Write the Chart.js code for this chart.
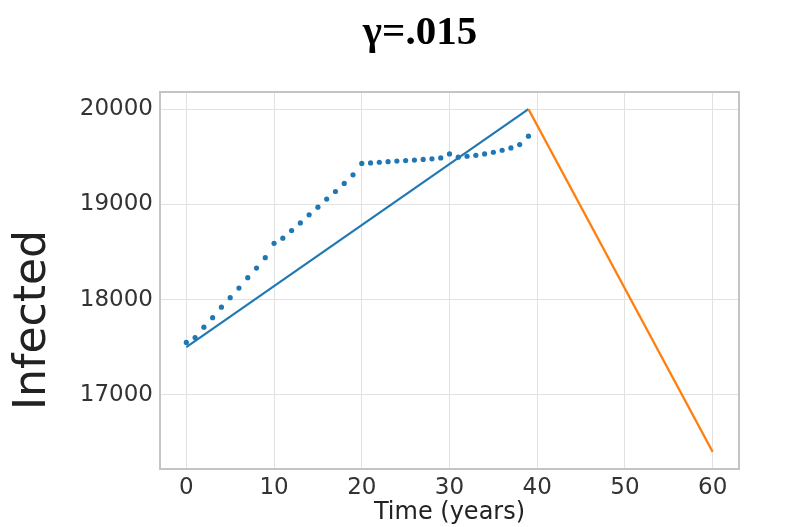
<!DOCTYPE html>
<html>
<head>
<meta charset="utf-8">
<title>gamma .015</title>
<script src="https://cdn.jsdelivr.net/npm/chart.js@4.4.1/dist/chart.umd.min.js"></script>
<style>
  html, body { margin: 0; padding: 0; background: #fff; }
  #wrap { width: 809px; height: 527px; }
</style>
</head>
<body>
<div id="wrap"><canvas id="chart" width="809" height="527"></canvas></div>
<script>
// ---- data ----
const chartTitle = 'γ=.015';
const xTicks = [0, 10, 20, 30, 40, 50, 60];
const yTicks = [17000, 18000, 19000, 20000];

// fitted model (solid lines)
const fitYears = [0, 39];
const fitValues = [17500, 20000];
const forecastYears = [39, 60];
const forecastValues = [20000, 16400];

// observed yearly values (dots)
const obsYears = [0, 1, 2, 3, 4, 5, 6, 7, 8, 9,
  10, 11, 12, 13, 14, 15, 16, 17, 18, 19,
  20, 21, 22, 23, 24, 25, 26, 27, 28, 29,
  30, 31, 32, 33, 34, 35, 36, 37, 38, 39];
const obsValues = [17550, 17600, 17710, 17810, 17920, 18020, 18120, 18230, 18330, 18440,
  18590, 18645, 18725, 18805, 18890, 18970, 19055, 19135, 19220, 19310,
  19430, 19435, 19442, 19448, 19455, 19460, 19465, 19472, 19478, 19488,
  19530, 19495, 19505, 19515, 19530, 19547, 19568, 19593, 19628, 19716];

const blue = '#1f77b4';
const orange = '#ff7f0e';

const toPoints = (xs, ys) => xs.map((x, i) => ({ x: x, y: ys[i] }));

// box round the plot area, like the matplotlib spines
const framePlugin = {
  id: 'frame',
  beforeDatasetsDraw(chart) {
    const { ctx, chartArea: a } = chart;
    ctx.save();
    ctx.strokeStyle = '#c4c4c4';
    ctx.lineWidth = 2;
    ctx.strokeRect(a.left, a.top, a.right - a.left, a.bottom - a.top);
    ctx.restore();
  }
};

// figure title and y label sit off-centre in the original, so place them by hand
const textPlugin = {
  id: 'texts',
  afterDraw(chart) {
    const ctx = chart.ctx;
    ctx.save();
    ctx.fillStyle = '#000';
    ctx.font = 'bold 41px "Liberation Serif", "Times New Roman", serif';
    ctx.textAlign = 'center';
    ctx.textBaseline = 'alphabetic';
    ctx.fillText(chartTitle, 420, 44);

    ctx.fillStyle = '#222';
    ctx.font = '44px "DejaVu Sans", sans-serif';
    ctx.translate(34, 320);
    ctx.rotate(-Math.PI / 2);
    ctx.textBaseline = 'middle';
    ctx.fillText('Infected', 0, 0);
    ctx.restore();
  }
};

new Chart(document.getElementById('chart'), {
  type: 'scatter',
  data: {
    datasets: [
      {
        label: 'observed',
        data: toPoints(obsYears, obsValues),
        showLine: false,
        pointRadius: 2.6,
        pointBackgroundColor: blue,
        pointBorderWidth: 0,
        order: 0
      },
      {
        label: 'fit',
        data: toPoints(fitYears, fitValues),
        showLine: true,
        borderColor: blue,
        borderWidth: 2.2,
        pointRadius: 0,
        order: 2
      },
      {
        label: 'forecast',
        data: toPoints(forecastYears, forecastValues),
        showLine: true,
        borderColor: orange,
        borderWidth: 2.2,
        pointRadius: 0,
        order: 1
      }
    ]
  },
  options: {
    responsive: false,
    animation: false,
    layout: { padding: { top: 92, right: 70, left: 0, bottom: 0 } },
    plugins: {
      legend: { display: false },
      tooltip: { enabled: false }
    },
    scales: {
      x: {
        type: 'linear',
        min: -3,
        max: 63,
        afterBuildTicks(scale) {
          scale.ticks = xTicks.map(v => ({ value: v }));
        },
        afterFit(scale) {
          scale.height = 58;
        },
        grid: { color: '#e2e2e2', lineWidth: 1, drawTicks: false },
        border: { display: false },
        ticks: {
          padding: 5,
          color: '#333',
          font: { family: '"DejaVu Sans", sans-serif', size: 23 },
          callback: v => String(v)
        },
        title: {
          display: true,
          text: 'Time (years)',
          color: '#222',
          padding: { top: 0, bottom: 0 },
          font: { family: '"DejaVu Sans", sans-serif', size: 24 }
        }
      },
      y: {
        min: 16220,
        max: 20180,
        afterBuildTicks(scale) {
          scale.ticks = yTicks.map(v => ({ value: v }));
        },
        afterFit(scale) {
          scale.width = 160;
        },
        grid: { color: '#e2e2e2', lineWidth: 1, drawTicks: false },
        border: { display: false },
        ticks: {
          padding: 7,
          color: '#333',
          font: { family: '"DejaVu Sans", sans-serif', size: 23 },
          callback: v => String(v)
        }
      }
    }
  },
  plugins: [framePlugin, textPlugin]
});
</script>
</body>
</html>
